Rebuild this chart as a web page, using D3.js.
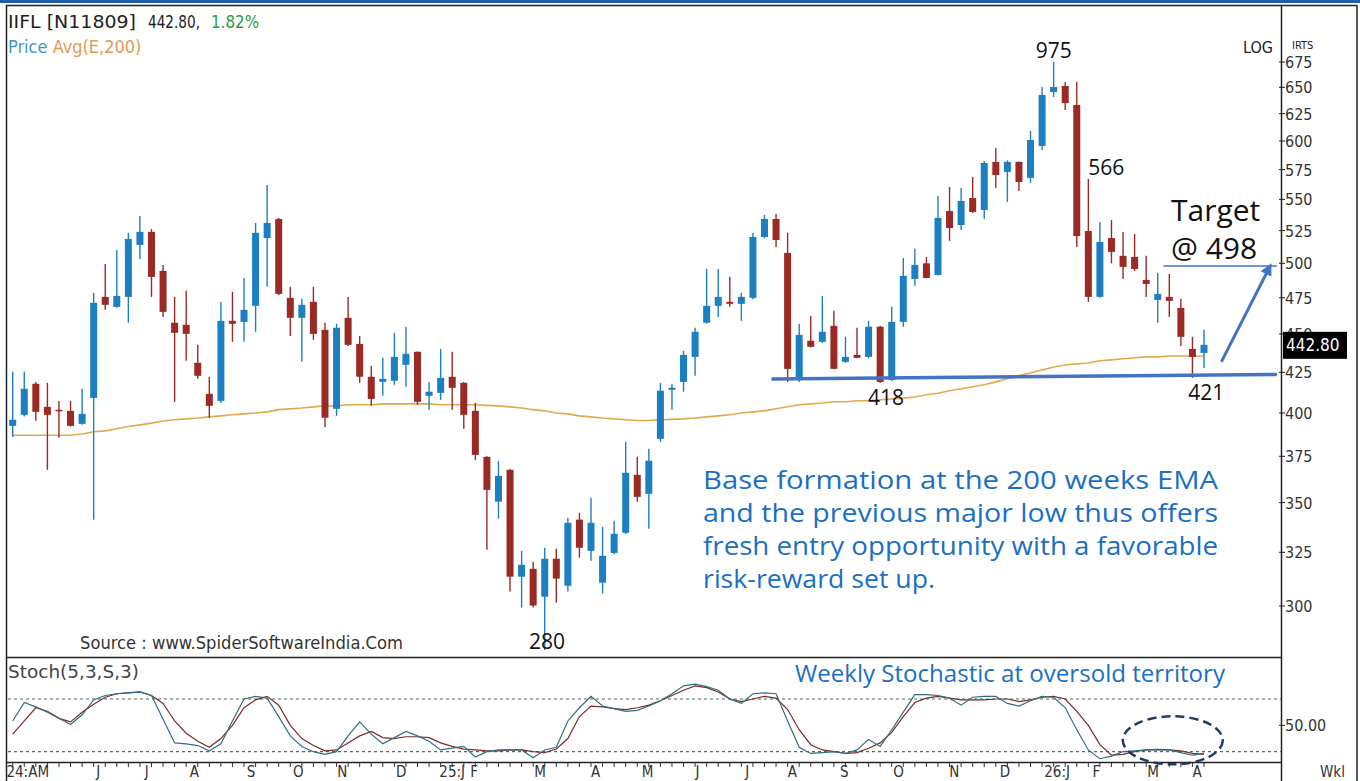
<!DOCTYPE html>
<html><head><meta charset="utf-8">
<script src="https://cdn.jsdelivr.net/npm/d3@7"></script>
<style>body{margin:0;background:#fff;} svg{display:block;}</style>
</head><body>
<svg id="c" width="1360" height="781"></svg>
<script>
// ---- weekly candles (IIFL) ----
const opens  = [392.4,398.9,417.8,403.7,401.9,401.3,393.6,409.1,475.6,468.6,475.6,513.9,524.0,494.4,457.6,456.2,431.1,411.6,407.3,458.9,458.2,469.3,519.2,534.2,474.9,461.0,472.1,452.8,402.5,461.0,443.4,422.2,419.0,419.7,429.8,438.2,410.4,412.2,422.2,418.4,401.3,374.7,350.5,367.5,313.4,317.1,304.2,321.9,309.2,341.2,325.7,310.6,324.7,334.6,364.8,354.6,384.9,414.1,419.0,434.9,457.6,469.3,472.1,470.7,474.9,520.0,534.2,507.8,420.3,445.5,444.8,455.5,431.7,436.2,434.9,454.9,420.3,458.2,488.5,500.0,491.4,540.6,529.4,551.1,541.4,581.6,573.0,581.6,567.9,595.6,645.5,651.3,633.1,524.7,475.6,519.2,505.6,504.8,487.8,473.5,475.6,467.9,440.1,437.5];
const highs  = [425.3,425.3,419.0,418.4,407.3,407.3,414.7,478.4,499.5,510.1,523.2,536.6,526.3,498.8,475.6,479.9,442.8,422.2,472.1,479.2,489.2,531.0,562.0,535.0,482.8,474.2,482.8,457.6,456.9,475.6,448.7,429.1,434.3,450.8,454.9,438.5,419.0,440.1,438.2,419.0,406.1,375.0,372.5,368.0,325.7,320.4,327.2,326.7,342.2,344.7,352.5,337.6,340.7,383.2,374.7,379.2,418.4,417.8,438.8,454.2,495.8,495.8,490.0,478.4,523.2,537.4,538.2,523.2,456.9,462.3,476.3,465.8,448.1,454.2,458.9,455.5,468.6,504.0,510.9,504.8,552.8,560.3,559.5,568.7,582.4,593.8,583.0,582.0,609.0,650.3,675.0,655.2,655.2,567.0,531.8,533.4,523.9,522.4,505.6,492.9,492.1,474.2,448.1,452.8];
const lows   = [386.0,398.0,395.4,367.5,385.5,392.0,393.0,341.2,466.5,468.0,457.6,503.3,475.6,461.6,406.7,432.4,420.9,397.2,406.0,444.8,444.8,451.5,482.8,477.0,448.7,431.7,446.1,391.8,398.3,442.1,418.4,404.3,410.4,417.2,416.0,404.9,401.9,407.9,401.9,390.7,373.0,326.2,341.7,306.5,299.3,299.3,281.0,301.5,306.5,322.4,320.9,305.6,324.0,334.0,350.5,336.6,383.2,401.9,412.9,422.8,457.0,461.6,468.6,458.9,474.0,519.0,512.4,419.0,419.0,441.0,444.0,427.0,431.1,434.0,434.0,418.3,419.5,454.9,483.5,489.0,491.0,517.0,525.5,539.0,534.2,559.5,547.9,557.0,563.7,592.0,640.7,628.4,512.4,472.1,475.0,500.0,488.5,494.4,475.6,457.6,461.6,442.1,421.5,427.8];
const closes = [396.0,414.7,400.7,398.9,401.3,392.4,399.5,471.4,470.0,476.3,518.5,524.0,490.0,465.1,450.8,450.1,422.8,404.3,458.9,456.9,466.5,523.2,531.0,477.7,461.0,470.0,450.1,397.2,454.2,442.8,422.2,408.5,420.9,434.9,436.9,406.7,412.9,421.5,415.3,398.9,375.8,356.7,364.2,313.4,319.0,300.2,321.9,312.5,339.6,327.2,339.6,323.3,334.1,365.9,353.0,372.5,413.5,415.3,436.2,451.5,469.3,475.6,470.7,475.6,520.0,534.2,517.7,427.2,449.4,441.5,451.5,427.2,434.9,434.3,454.9,419.0,458.2,490.7,498.8,489.2,535.0,527.0,548.7,539.8,580.7,570.4,581.6,564.5,600.9,642.6,650.3,634.9,520.8,475.6,516.2,508.6,497.3,495.8,484.9,477.7,472.8,448.1,434.9,442.8];
// ---- 200-week EMA ----
const ema200 = [387,387,387,387,387,387,387.7,389,389.5,390.7,392,393,394,395.3,396,396.5,397,397.7,398.3,399,399.5,400,400.7,402,402.5,403,403.7,404.3,404.3,405,405,405,405.5,405.5,405.5,405.5,405.5,405,405,405,405,404.6,404.3,403.7,403,402,401.3,400,399.5,398.3,397.7,397,396.5,396,395.6,395.6,396,396.2,396.5,397,397.7,398.3,399,400,400.7,401.3,402.5,403.7,405,405.5,406,406.8,406.8,407.4,407.4,408,408.5,409,409.7,411,412,413.5,414.7,416,417.2,419,421,423,424.6,426.5,428.4,429.7,430.4,431,432.4,433,433.7,434.3,434.9,434.9,435.5,435.5,435.5,435.5];
// ---- Stochastic (5,3,S,3) ----
const stochK = [55,76,71,65,58,51,62,79,84,86,87,88,84,57,30,29,27,21,29,55,80,83,81,60,38,26,20,17,20,38,54,40,29,36,43,38,32,22,24,26,14,20,22,22,22,13,22,25,55,70,83,72,69,66,67,72,78,86,95,97,94,90,80,75,86,87,86,55,25,18,19,20,18,22,34,26,45,65,85,85,84,81,73,82,83,83,75,72,78,83,82,70,45,22,12,15,20,21,22,22,22,19,16,18];
const stochD = [40,55,70,66,58,54,65,74,82,86,87,88,84,75,55,41,32,25,35,50,70,79,83,73,50,35,27,21,22,30,38,43,36,35,37,37,36,30,26,23,22,21,21,22,22,20,19,23,35,60,72,71,69,68,70,73,78,84,90,95,93,88,80,77,80,83,81,68,45,28,22,20,18,19,24,30,42,60,76,81,83,81,79,79,79,80,80,77,79,82,83,80,66,50,28,16,17,20,22,22.6,22,21,18,17];
const stochLevels = [80, 20];
// ---- axes ----
const priceTicks = [300,325,350,375,400,425,450,475,500,525,550,575,600,625,650,675];
const monthLabels = ["24:AM","J","J","A","S","O","N","D","25:J","F","M","A","M","J","J","A","S","O","N","D","26:J","F","M","A"];
const monthIdx    = [1.3,7.4,11.6,15.7,20.6,24.7,28.5,33.6,38.0,39.9,45.6,50.4,54.9,59.2,63.5,67.4,71.9,76.6,81.4,85.8,90.3,93.7,98.6,102.4];
// ---- annotations ----
const lastPrice = 442.80, changePct = 1.82;
const targetPrice = 498;
const supportLine = [[65.6, 420.8], [109.3, 423.6]];
const targetArrow = [[104.5, 431.7], [108.6, 496]];
const swingLabels = [
  {text:"975", i:90, v:675.0, pos:"top"},
  {text:"566", i:93, v:567.0, pos:"topLeft"},
  {text:"418", i:75.5, v:418.3, pos:"bottom"},
  {text:"421", i:103.2, v:421.5, pos:"bottom"},
  {text:"280", i:46.2, v:281.0, pos:"bottomIn"}
];
const noteLines = ["Base formation at the 200 weeks EMA","and the previous major low thus offers","fresh entry opportunity with a favorable","risk-reward set up."];

const svg = d3.select("#c");
const W = 1360, H = 781;
const axisX = 1281;
const x = d3.scaleLinear().domain([0, 103]).range([12.7, 1204]);
const y = d3.scaleLog().domain([675, 300]).range([62, 606]);
const ys = d3.scaleLinear().domain([20, 80]).range([751.7, 699]);

const chartFont = "'DejaVu Sans Condensed','DejaVu Sans',sans-serif";
const annFont = "'Open Sans','Noto Sans',sans-serif";
const BLUE = "#1b7fc0", RED = "#9b2a25";

// frame
svg.append("rect").attr("x",0).attr("y",0).attr("width",W).attr("height",3).attr("fill","#1d5ea6");
const frame = svg.append("g").attr("stroke","#222").attr("stroke-width",1.5).attr("fill","none");
frame.append("line").attr("x1",6).attr("x2",1357).attr("y1",5.5).attr("y2",5.5);
frame.append("line").attr("x1",6.5).attr("x2",6.5).attr("y1",5).attr("y2",H);
frame.append("line").attr("x1",1357).attr("x2",1357).attr("y1",5).attr("y2",H);
frame.append("line").attr("x1",axisX+0.5).attr("x2",axisX+0.5).attr("y1",5).attr("y2",H);
frame.append("line").attr("x1",6).attr("x2",axisX).attr("y1",657.5).attr("y2",657.5);
frame.append("line").attr("x1",6).attr("x2",axisX).attr("y1",762.5).attr("y2",762.5);

// EMA
svg.append("path").datum(ema200)
  .attr("d", d3.line().x((d,i)=>x(i)).y(d=>y(d)))
  .attr("fill","none").attr("stroke","#e3a84c").attr("stroke-width",1.6);

// candles
const idx = d3.range(opens.length);
const cg = svg.append("g");
cg.selectAll("line.w").data(idx).join("line")
  .attr("x1",i=>x(i)).attr("x2",i=>x(i))
  .attr("y1",i=>y(highs[i])).attr("y2",i=>y(lows[i]))
  .attr("stroke",i=>closes[i]>=opens[i]?BLUE:RED).attr("stroke-width",1.4);
cg.selectAll("rect").data(idx).join("rect")
  .attr("x",i=>x(i)-3.5).attr("width",7)
  .attr("y",i=>y(Math.max(opens[i],closes[i])))
  .attr("height",i=>Math.max(1.5, y(Math.min(opens[i],closes[i]))-y(Math.max(opens[i],closes[i]))))
  .attr("fill",i=>closes[i]>=opens[i]?BLUE:RED);

// support & target lines
const ann = "#4472c4";
svg.append("line").attr("x1",x(supportLine[0][0])).attr("y1",y(supportLine[0][1]))
  .attr("x2",x(supportLine[1][0])).attr("y2",y(supportLine[1][1]))
  .attr("stroke",ann).attr("stroke-width",3.5);
svg.append("line").attr("x1",x(99.5)).attr("x2",x(109.3)).attr("y1",y(targetPrice)).attr("y2",y(targetPrice))
  .attr("stroke",ann).attr("stroke-width",1.5);
svg.append("defs").append("marker").attr("id","ah").attr("viewBox","0 0 10 10").attr("refX",5).attr("refY",5)
  .attr("markerWidth",4).attr("markerHeight",4).attr("orient","auto")
  .append("path").attr("d","M0,0 L10,5 L0,10 z").attr("fill",ann);
svg.append("line").attr("x1",x(targetArrow[0][0])).attr("y1",y(targetArrow[0][1]))
  .attr("x2",x(targetArrow[1][0])).attr("y2",y(targetArrow[1][1]))
  .attr("stroke",ann).attr("stroke-width",3).attr("marker-end","url(#ah)");

// y axis
const yt = svg.append("g").attr("font-family",chartFont).attr("font-size",16).attr("fill","#333");
priceTicks.forEach(v=>{
  yt.append("line").attr("x1",axisX-2).attr("x2",axisX+4).attr("y1",y(v)).attr("y2",y(v)).attr("stroke","#222");
  yt.append("text").attr("x",axisX+4).attr("y",y(v)+6).text(v);
});
svg.append("text").attr("x",1243).attr("y",53).attr("font-family",chartFont).attr("font-size",16).attr("fill","#222").text("LOG");
svg.append("text").attr("x",1292).attr("y",49).attr("font-family",chartFont).attr("font-size",11).attr("fill","#222").text("IRTS");
// price tag
svg.append("rect").attr("x",axisX+2).attr("y",y(lastPrice)-13).attr("width",64).attr("height",27).attr("fill","#000");
svg.append("text").attr("x",axisX+5).attr("y",y(lastPrice)+6).attr("font-family",chartFont).attr("font-size",17).attr("fill","#fff").text(lastPrice.toFixed(2));

// header legend
const hdr = (t, x0, w, col) => svg.append("text").attr("x",x0).attr("y",28).attr("font-family",chartFont).attr("font-size",18)
  .attr("fill",col).attr("textLength",w).attr("lengthAdjust","spacingAndGlyphs").text(t);
hdr("IIFL [N11809]", 8, 128, "#222");
hdr(lastPrice.toFixed(2)+",", 148, 52, "#222");
hdr(changePct.toFixed(2)+"%", 211, 48, "#2e9a3e");
const lg = svg.append("text").attr("x",8).attr("y",53).attr("font-family",chartFont).attr("font-size",18);
lg.append("tspan").attr("fill","#3a9bc0").text("Price  ");
lg.append("tspan").attr("fill","#e09a52").text("Avg(E,200)");
svg.append("text").attr("x",80).attr("y",649).attr("font-family",chartFont).attr("font-size",18).attr("fill","#333")
  .attr("textLength",323).attr("lengthAdjust","spacingAndGlyphs").text("Source : www.SpiderSoftwareIndia.Com");

// swing labels
swingLabels.forEach(s=>{
  const t = svg.append("text").attr("font-family",annFont).attr("font-size",21).attr("fill","#111").text(s.text);
  if (s.pos==="top") t.attr("x",x(s.i)).attr("y",y(s.v)-4).attr("text-anchor","middle");
  else if (s.pos==="topLeft") t.attr("x",x(s.i)).attr("y",y(s.v)-4);
  else if (s.pos==="bottom") t.attr("x",x(s.i)).attr("y",y(s.v)+22).attr("text-anchor","middle");
  else t.attr("x",x(s.i)).attr("y",y(s.v)-1).attr("text-anchor","middle");
});
svg.append("text").attr("x",1171).attr("y",221).attr("font-family",annFont).attr("font-size",30).attr("fill","#111").text("Target");
svg.append("text").attr("x",1171).attr("y",259).attr("font-family",annFont).attr("font-size",30).attr("fill","#111").text("@ "+targetPrice);

// note
const noteW = [515,515,515,232];
noteLines.forEach((l,k)=>{
  svg.append("text").attr("x",703).attr("y",489+k*33).attr("font-family",annFont).attr("font-size",26)
    .attr("fill","#1a6fc4").attr("textLength",noteW[k]).attr("lengthAdjust","spacingAndGlyphs").text(l);
});

// stochastic panel
svg.append("text").attr("x",8).attr("y",678).attr("font-family",chartFont).attr("font-size",18).attr("fill","#444")
  .attr("textLength",131).attr("lengthAdjust","spacingAndGlyphs").text("Stoch(5,3,S,3)");
svg.append("text").attr("x",795).attr("y",682).attr("font-family",annFont).attr("font-size",23).attr("fill","#1a6fc4")
  .attr("textLength",430).attr("lengthAdjust","spacingAndGlyphs").text("Weekly Stochastic at oversold territory");
stochLevels.forEach(v=>{
  svg.append("line").attr("x1",8).attr("x2",axisX).attr("y1",ys(v)).attr("y2",ys(v))
    .attr("stroke","#4f6f4f").attr("stroke-width",1.2).attr("stroke-dasharray","3,3");
});
svg.append("line").attr("x1",axisX-2).attr("x2",axisX+4).attr("y1",ys(50)).attr("y2",ys(50)).attr("stroke","#222");
svg.append("text").attr("x",axisX+4).attr("y",ys(50)+6).attr("font-family",chartFont).attr("font-size",16).attr("fill","#333").text("50.00");
const sl = d3.line().x((d,i)=>x(i)).y(d=>ys(d));
svg.append("path").datum(stochD).attr("d",sl).attr("fill","none").attr("stroke","#7a2b2b").attr("stroke-width",1.2);
svg.append("path").datum(stochK).attr("d",sl).attr("fill","none").attr("stroke","#2f6f80").attr("stroke-width",1.2);
svg.append("ellipse").attr("cx",x(100.3)).attr("cy",ys(33)).attr("rx",50).attr("ry",24)
  .attr("fill","none").attr("stroke","#1f3a68").attr("stroke-width",2.5).attr("stroke-dasharray","9,5");

// x axis
const xt = svg.append("g");
idx.forEach(i=>xt.append("line").attr("x1",x(i)).attr("x2",x(i)).attr("y1",763).attr("y2",767).attr("stroke","#333"));
monthLabels.forEach((m,k)=>{
  svg.append("text").attr("x",x(monthIdx[k])).attr("y",777).attr("text-anchor","middle")
    .attr("font-family",chartFont).attr("font-size",15).attr("fill","#333").text(m);
});
svg.append("text").attr("x",1320).attr("y",777).attr("font-family",chartFont).attr("font-size",15).attr("fill","#333").text("Wkl");
</script>
</body></html>
